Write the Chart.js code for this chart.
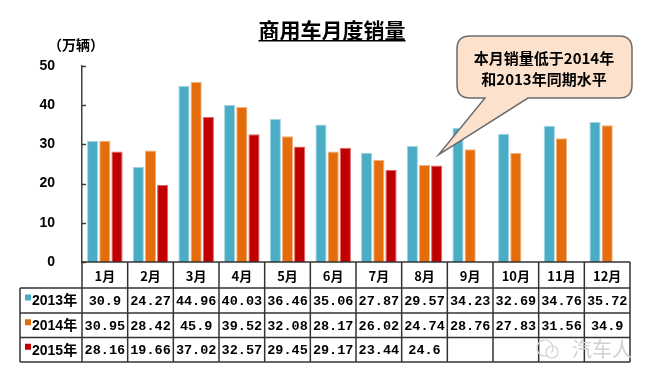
<!DOCTYPE html>
<html><head><meta charset="utf-8">
<script src="https://cdn.jsdelivr.net/npm/chart.js@4"></script>
<style>html,body{margin:0;padding:0;background:#fff}canvas{display:block}</style>
</head><body>
<canvas id="c" width="654" height="378"></canvas>
<script>
const months = ['1月','2月','3月','4月','5月','6月','7月','8月','9月','10月','11月','12月'];
const seriesNames = ['2013年','2014年','2015年'];
const sales2013 = [30.9, 24.27, 44.96, 40.03, 36.46, 35.06, 27.87, 29.57, 34.23, 32.69, 34.76, 35.72];
const sales2014 = [30.95, 28.42, 45.9, 39.52, 32.08, 28.17, 26.02, 24.74, 28.76, 27.83, 31.56, 34.9];
const sales2015 = [28.16, 19.66, 37.02, 32.57, 29.45, 29.17, 23.44, 24.6];
const seriesColors = ['#4BACC6', '#E46C0A', '#C00000'];
const seriesBorders = ['#A5D5E3', '#F3B07A', '#E06666'];
const titleText = '商用车月度销量';
const unitText = '（万辆）';
const calloutLines = ['本月销量低于2014年', '和2013年同期水平'];
const calloutMonth = 7;
const watermarkText = '汽车人';

const CJK = '"Noto Sans CJK SC", "Liberation Sans", sans-serif';
const SANS = '"Liberation Sans", Arial, "Noto Sans CJK SC", sans-serif';
const MONO = '"Liberation Mono", "DejaVu Sans Mono", monospace';

const allSeries = [sales2013, sales2014, sales2015];

const deco = {
  id: 'deco',
  afterDraw(chart) {
    const ctx = chart.ctx;
    const x = chart.scales.x, y = chart.scales.y;
    const area = chart.chartArea;
    const step = x.getPixelForValue(1) - x.getPixelForValue(0);
    const left = area.left, right = area.right, base = y.getPixelForValue(0);
    ctx.save();

    // title
    ctx.fillStyle = '#000';
    ctx.font = 'bold 21px ' + CJK;
    ctx.textAlign = 'center';
    ctx.textBaseline = 'alphabetic';
    const tx = 332, ty = 38;
    ctx.fillText(titleText, tx, ty);
    const tw = ctx.measureText(titleText).width;
    ctx.fillRect(tx - tw / 2, ty + 2, tw, 1.5);

    // unit
    ctx.font = 'bold 14px ' + CJK;
    ctx.textAlign = 'left';
    ctx.textBaseline = 'middle';
    ctx.fillText(unitText, 48, 45);

    // inner ticks on y axis
    ctx.strokeStyle = '#404040';
    ctx.lineWidth = 1.5;
    y.ticks.forEach(t => {
      const py = Math.round(y.getPixelForValue(t.value)) + 0.5;
      ctx.beginPath(); ctx.moveTo(left, py); ctx.lineTo(left + 4, py); ctx.stroke();
    });

    // table
    const rowH = [26, 25, 24.5, 24.5];
    const rows = [base];
    rowH.forEach(h => rows.push(rows[rows.length - 1] + h));
    const legL = 20;
    ctx.strokeStyle = '#333';
    ctx.lineWidth = 1.5;
    ctx.beginPath(); ctx.moveTo(left, base); ctx.lineTo(right, base); ctx.stroke();
    for (let i = 1; i < rows.length; i++) {
      ctx.beginPath(); ctx.moveTo(legL, rows[i]); ctx.lineTo(right, rows[i]); ctx.stroke();
    }
    for (let i = 0; i <= months.length; i++) {
      const px = x.getPixelForValue(i) - step / 2;
      ctx.beginPath(); ctx.moveTo(px, base); ctx.lineTo(px, rows[4]); ctx.stroke();
    }
    ctx.beginPath(); ctx.moveTo(legL, rows[1]); ctx.lineTo(legL, rows[4]); ctx.stroke();

    // month labels
    ctx.fillStyle = '#000';
    ctx.textAlign = 'center';
    ctx.textBaseline = 'middle';
    ctx.font = 'bold 13px ' + CJK;
    months.forEach((m, i) => ctx.fillText(m, x.getPixelForValue(i), (rows[0] + rows[1]) / 2 + 1));

    // rows
    allSeries.forEach((arr, s) => {
      const cy = (rows[s + 1] + rows[s + 2]) / 2 + 1;
      ctx.fillStyle = seriesColors[s];
      ctx.fillRect(25, cy - 7, 6, 6);
      ctx.fillStyle = '#000';
      ctx.textAlign = 'left';
      ctx.font = 'bold 14px ' + SANS;
      ctx.fillText(seriesNames[s], 32, cy);
      ctx.textAlign = 'center';
      ctx.font = 'bold 13.5px ' + MONO;
      arr.forEach((v, i) => ctx.fillText(String(v), x.getPixelForValue(i), cy));
    });

    // callout
    const meta = chart.getDatasetMeta(2).data[calloutMonth];
    const tipX = meta.x + 2, tipY = meta.y - 11;
    const bx0 = 457, bx1 = 632, by0 = 36, by1 = 98, r = 13;
    ctx.beginPath();
    ctx.moveTo(bx0 + r, by0);
    ctx.lineTo(bx1 - r, by0);
    ctx.quadraticCurveTo(bx1, by0, bx1, by0 + r);
    ctx.lineTo(bx1, by1 - r);
    ctx.quadraticCurveTo(bx1, by1, bx1 - r, by1);
    ctx.lineTo(528, by1);
    ctx.lineTo(tipX, tipY);
    ctx.lineTo(485, by1);
    ctx.lineTo(bx0 + r, by1);
    ctx.quadraticCurveTo(bx0, by1, bx0, by1 - r);
    ctx.lineTo(bx0, by0 + r);
    ctx.quadraticCurveTo(bx0, by0, bx0 + r, by0);
    ctx.closePath();
    ctx.fillStyle = '#FCE2CC';
    ctx.fill();
    ctx.strokeStyle = '#6b6b6b';
    ctx.lineWidth = 1.5;
    ctx.stroke();
    ctx.fillStyle = '#000';
    ctx.font = 'bold 15px ' + CJK;
    ctx.textAlign = 'center';
    ctx.textBaseline = 'middle';
    ctx.fillText(calloutLines[0], 544, 58);
    ctx.fillText(calloutLines[1], 544, 79);

    // watermark
    ctx.strokeStyle = '#d4d4d4';
    ctx.lineWidth = 1.2;
    ctx.beginPath(); ctx.arc(545, 348, 8, 0.4 * Math.PI, 2.2 * Math.PI); ctx.stroke();
    ctx.beginPath(); ctx.arc(552, 352, 6, 0, 2 * Math.PI); ctx.stroke();
    ctx.fillStyle = '#d0d0d0';
    ctx.font = '20px ' + CJK;
    ctx.textAlign = 'left';
    ctx.fillText(watermarkText, 572, 349);

    ctx.restore();
  }
};

new Chart(document.getElementById('c'), {
  type: 'bar',
  data: {
    labels: months,
    datasets: allSeries.map((arr, s) => ({
      label: seriesNames[s],
      data: arr,
      backgroundColor: seriesColors[s],
      borderColor: seriesBorders[s],
      borderWidth: 1,
      categoryPercentage: 0.8,
      barPercentage: 0.92
    }))
  },
  options: {
    responsive: false,
    animation: false,
    devicePixelRatio: 1,
    layout: { padding: { left: 0, right: 24, top: 66, bottom: 116 } },
    plugins: { legend: { display: false }, title: { display: false }, tooltip: { enabled: false } },
    scales: {
      x: { display: false, offset: true },
      y: {
        min: 0, max: 50,
        ticks: { stepSize: 10, padding: 19, color: '#000', font: { size: 14, weight: 'bold', family: SANS } },
        grid: { display: false },
        border: { display: true, color: '#404040', width: 1.5 },
        afterFit(s) { s.width = 82; }
      }
    }
  },
  plugins: [deco]
});
</script>
</body></html>
